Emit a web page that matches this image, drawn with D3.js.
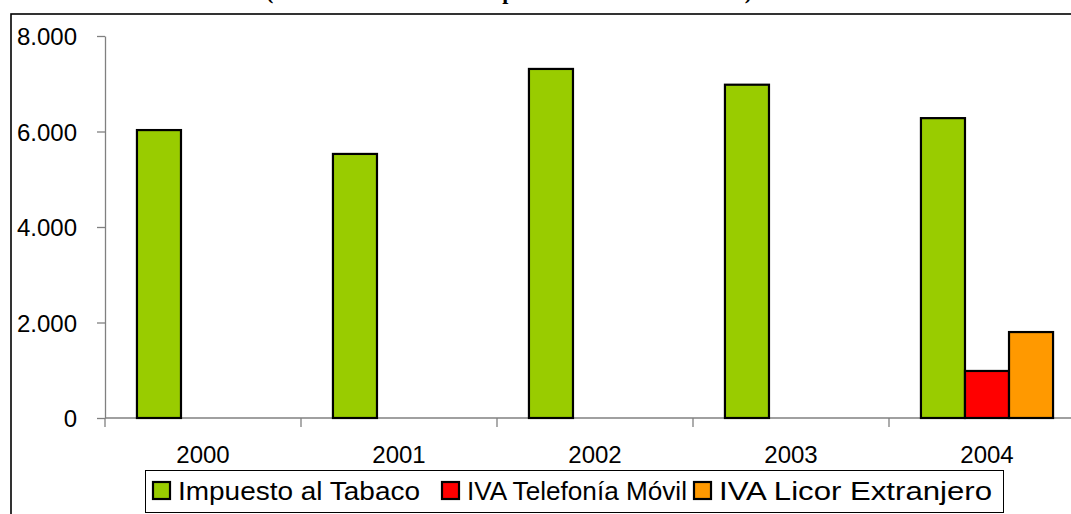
<!DOCTYPE html>
<html>
<head>
<meta charset="utf-8">
<script src="https://cdn.jsdelivr.net/npm/d3@7"></script>
<style>
  body { margin: 0; background: #fff; }
  svg { display: block; }
  text { font-family: Arial, "Liberation Sans", sans-serif; }
</style>
</head>
<body>
<div id="app"></div>
<script>
// datos
const years = ['2000', '2001', '2002', '2003', '2004'];
const seriesNames = ['Impuesto al Tabaco', 'IVA Telefonía Móvil', 'IVA Licor Extranjero'];
const tabaco = [6030, 5530, 7310, 6980, 6280];
const telefonia = [null, null, null, null, 985];
const licor = [null, null, null, null, 1800];
const yTicks = [0, 2000, 4000, 6000, 8000];
const title = '(Millones de pesos de 2004)';

const colors = ['#99CC00', '#FF0000', '#FF9900'];

const W = 1071, H = 514;
const margin = { left: 105, top: 36, right: -14, bottom: 96 };
const bounds = {
    width: W - margin.left - margin.right,
    height: H - margin.top - margin.bottom
};

const svg = d3.select('#app')
    .append('svg')
    .attr('width', W)
    .attr('height', H);

// marco exterior (se sale de la imagen por la derecha y abajo)
svg.append('rect')
    .attr('x', 11).attr('y', 14)
    .attr('width', W + 20).attr('height', H + 20)
    .attr('fill', 'none')
    .attr('stroke', '#000')
    .attr('stroke-width', 1.6);

// titulo, cortado arriba como en el original
svg.append('text')
    .attr('x', 266).attr('y', -1)
    .attr('textLength', 486)
    .attr('lengthAdjust', 'spacing')
    .style('font-family', '"Liberation Serif", "Times New Roman", serif')
    .style('font-weight', 'bold')
    .style('font-size', '22px')
    .text(title);

const g = svg.append('g')
    .attr('transform', `translate(${margin.left},${margin.top})`);

// escalas
const xScale = d3.scaleBand()
    .domain(years)
    .range([0, bounds.width]);
const bandW = xScale.bandwidth();
const xInner = d3.scaleBand()
    .domain(seriesNames)
    .range([bandW * 0.163, bandW * 0.837]);

const yScale = d3.scaleLinear()
    .domain([0, 8000])
    .range([bounds.height, 0]);

const locale = d3.formatLocale({ decimal: ',', thousands: '.', grouping: [3], currency: ['$', ''] });
const fmt = locale.format(',');

// eje y
const yAxis = g.append('g')
    .call(d3.axisLeft(yScale).tickValues(yTicks).tickFormat(fmt).tickSize(8).tickSizeOuter(0).tickPadding(20));
yAxis.select('.domain').attr('stroke', '#808080').attr('stroke-width', 1.3);
yAxis.selectAll('.tick line').attr('stroke', '#808080').attr('stroke-width', 1.3);
yAxis.selectAll('.tick text').style('font-size', '24px').attr('fill', '#000').attr('dy', '0.36em');

// eje x
const xAxisG = g.append('g').attr('transform', `translate(0,${bounds.height})`);
xAxisG.append('line')
    .attr('x1', 0).attr('x2', bounds.width + 30)
    .attr('stroke', '#808080').attr('stroke-width', 1.3);
const bounds_x = years.map(d => xScale(d)).concat([bounds.width]);
xAxisG.selectAll('.xtick')
    .data(bounds_x)
    .join('line')
    .attr('class', 'xtick')
    .attr('x1', d => d).attr('x2', d => d)
    .attr('y1', 0).attr('y2', 9)
    .attr('stroke', '#808080').attr('stroke-width', 1.3);
xAxisG.selectAll('.xlabel')
    .data(years)
    .join('text')
    .attr('class', 'xlabel')
    .attr('x', d => xScale(d) + bandW / 2)
    .attr('y', 45)
    .attr('text-anchor', 'middle')
    .style('font-size', '24px')
    .text(d => d);

// barras
const allSeries = [tabaco, telefonia, licor];
const barData = [];
years.forEach((yr, i) => {
    allSeries.forEach((s, k) => {
        if (s[i] != null) barData.push({ year: yr, serie: seriesNames[k], value: s[i], k: k });
    });
});

g.selectAll('.bar')
    .data(barData)
    .join('rect')
    .attr('class', 'bar')
    .attr('x', d => xScale(d.year) + xInner(d.serie))
    .attr('y', d => yScale(d.value))
    .attr('width', xInner.bandwidth())
    .attr('height', d => yScale(0) - yScale(d.value))
    .attr('fill', d => colors[d.k])
    .attr('stroke', '#000')
    .attr('stroke-width', 2.2);

// leyenda
const legend = svg.append('g');
legend.append('rect')
    .attr('x', 145.5).attr('y', 470.5)
    .attr('width', 858).attr('height', 42)
    .attr('fill', '#fff')
    .attr('stroke', '#000')
    .attr('stroke-width', 1);
const legendX = [153, 442, 694];
const legendW = [242, 220, 273];
const items = legend.selectAll('.item')
    .data(seriesNames)
    .join('g')
    .attr('class', 'item')
    .attr('transform', (d, i) => `translate(${legendX[i]},482)`);
items.append('rect')
    .attr('width', 17).attr('height', 17)
    .attr('fill', (d, i) => colors[i])
    .attr('stroke', '#000')
    .attr('stroke-width', 2.2);
items.append('text')
    .attr('x', 25).attr('y', 18)
    .attr('textLength', (d, i) => legendW[i])
    .attr('lengthAdjust', 'spacingAndGlyphs')
    .style('font-size', '25px')
    .text(d => d);
</script>
</body>
</html>
